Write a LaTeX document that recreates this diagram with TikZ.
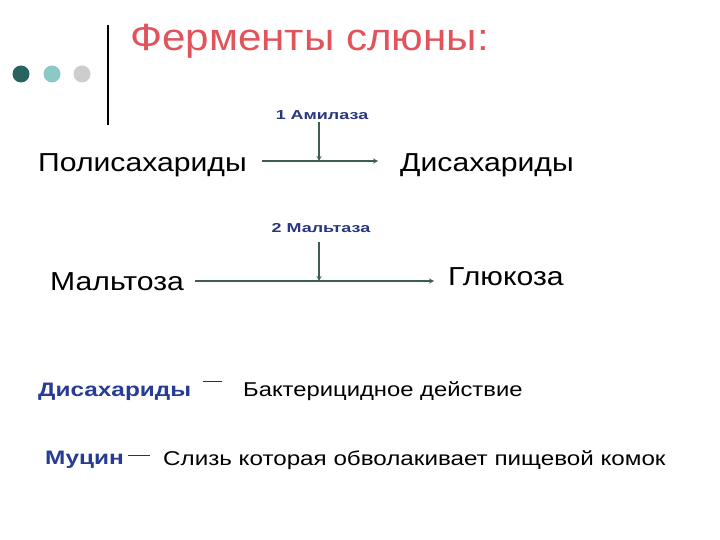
\documentclass[tikz,border=0pt]{standalone}
\usepackage{fontspec}
\setmainfont{Liberation Sans}
\newfontfamily\titlef[FakeStretch=1.11]{Liberation Sans}
\newfontfamily\bigf[FakeStretch=1.16]{Liberation Sans}
\newfontfamily\enzf[FakeStretch=1.38]{Liberation Sans}
\newfontfamily\blf[FakeStretch=1.25]{Liberation Sans}
\newfontfamily\txf[FakeStretch=1.19]{Liberation Sans}
\newfontfamily\txg[FakeStretch=1.21]{Liberation Sans}
\definecolor{titlered}{RGB}{226,84,92}
\definecolor{enzblue}{RGB}{40,55,130}
\definecolor{lblblue}{RGB}{40,60,150}
\definecolor{arrcol}{RGB}{62,94,80}
\definecolor{dotA}{RGB}{40,100,95}
\definecolor{dotB}{RGB}{140,200,198}
\definecolor{dotC}{RGB}{205,205,205}
\begin{document}
\begin{tikzpicture}[x=1pt,y=-1pt,
  big/.style={font=\bigf\fontsize{26}{30}\selectfont, inner sep=0pt, anchor=west},
  enz/.style={font=\enzf\fontsize{13}{15}\selectfont\bfseries, text=enzblue, inner sep=0pt},
  bluelbl/.style={font=\blf\fontsize{19.5}{22}\selectfont\bfseries, text=lblblue, inner sep=0pt, anchor=west},
  txt/.style={font=\txf\fontsize{20}{23}\selectfont, inner sep=0pt, anchor=west},
  arr/.style={draw=arrcol, line width=1.2pt, ->, >=stealth},
  dashl/.style={draw=black!80, line width=0.6pt}]
\useasboundingbox (0,0) rectangle (720,540);
\fill[white] (0,0) rectangle (720,540);
% bullets and bar
\fill[dotA] (21,74) circle (8.5);
\fill[dotB] (52,74) circle (8.5);
\fill[dotC] (82,74) circle (8.5);
\draw[line width=2.5pt] (108,25) -- (108,125);
% title
\node[font=\titlef\fontsize{38}{42}\selectfont, text=titlered, anchor=west, inner sep=0pt] (title) at (130,41) {Ферменты слюны:};
% row 1
\node[big] (poly) at (38,165) {Полисахариды};
\node[big] (disa) at (400,165) {Дисахариды};
\node[enz] (amyl) at (322,115) {1 Амилаза};
\coordinate (a1s) at (262,161);
\coordinate (a1e) at (378,161);
\coordinate (a1m) at (319,161);
\draw[arr] (a1s) -- (a1e);
\draw[arr] (amyl.south -| a1m) ++(0,2) -- (a1m);
% row 2
\node[big] (malt) at (50,282) {Мальтоза};
\node[big] (glu) at (448,277) {Глюкоза};
\node[enz] (maltase) at (321,228) {2 Мальтаза};
\coordinate (a2s) at (195,281);
\coordinate (a2e) at (434,281);
\coordinate (a2m) at (319,281);
\draw[arr] (a2s) -- (a2e);
\draw[arr] (319,242) -- (a2m);
% bottom
\node[bluelbl] (d2) at (38,392) {Дисахариды};
\draw[dashl] (203,381) -- (222,381);
\node[txt] (bact) at (243,391) {Бактерицидное действие};
\node[bluelbl] (muc) at (45,460) {Муцин};
\draw[dashl] (128,455) -- (150,455);
\node[txt, font=\txg\fontsize{20}{23}\selectfont] (sliz) at (163,460) {Слизь которая обволакивает пищевой комок};
\end{tikzpicture}
\end{document}
